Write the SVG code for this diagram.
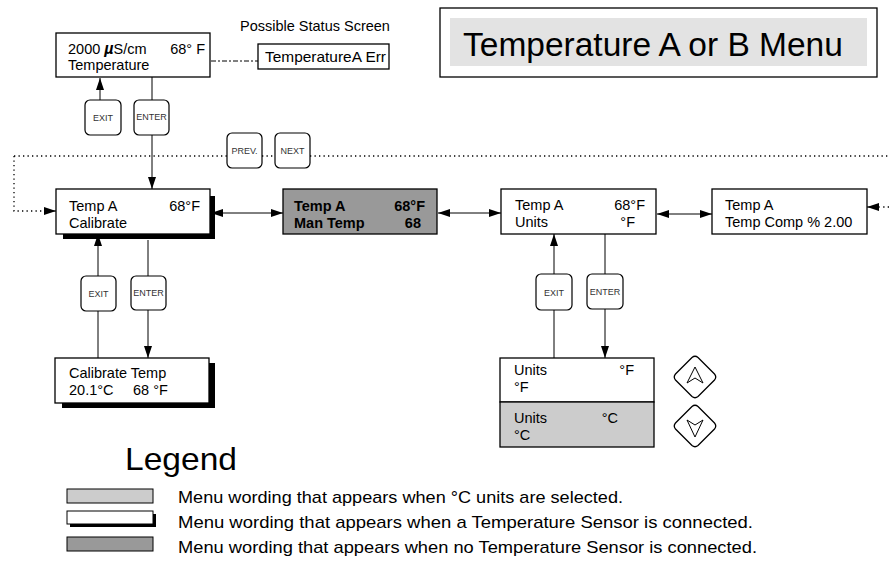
<svg xmlns="http://www.w3.org/2000/svg" width="889" height="563" viewBox="0 0 889 563">
<defs>
<style>
text{font-family:"Liberation Sans",Arial,sans-serif;fill:#000}
.t{font-size:14.5px}
.b{font-size:14.5px;font-weight:bold}
.btn{fill:#fff;stroke:#000;stroke-width:1.2}
.bt{font-size:9px;fill:#333;text-anchor:middle}
.box{stroke:#000;stroke-width:1.3}
.ln{stroke:#000;stroke-width:1;fill:none}
.dot{stroke:#000;stroke-width:1.3;fill:none;stroke-dasharray:1.3,3.2}
.lg{font-size:17px}
</style>
<marker id="ah" viewBox="0 0 12 8" refX="12" refY="4" markerWidth="12" markerHeight="8" markerUnits="userSpaceOnUse" orient="auto-start-reverse">
<path d="M0,0 L12,4 L0,8 Z" fill="#000"/>
</marker>
</defs>
<rect width="889" height="563" fill="#fff"/>

<g id="title">
<rect x="440" y="8" width="437" height="69" fill="#fff" class="box"/>
<rect x="450" y="18" width="417" height="48" fill="#e3e3e3"/>
<text x="463" y="56" font-size="33.5">Temperature A or B Menu</text>
</g>

<g id="connectors">
<path d="M211,61 H258" class="ln" stroke-dasharray="5,2,2,2" stroke-width="1.3"/>
<path d="M100,100 V78" class="ln" marker-end="url(#ah)"/>
<path d="M152,77 V189" class="ln" marker-end="url(#ah)"/>
<path d="M14,156 H227 M262,156 H275 M310,156 H889" class="dot"/>
<path d="M14,156 V211 H45" class="dot"/>
<path d="M44,211 H56" class="ln" marker-end="url(#ah)"/>
<path d="M889,207 H880" class="dot"/>
<path d="M880,207 H867" class="ln" marker-end="url(#ah)"/>
<path d="M211,213 H283" class="ln" marker-start="url(#ah)" marker-end="url(#ah)"/>
<path d="M438,213 H501" class="ln" marker-start="url(#ah)" marker-end="url(#ah)"/>
<path d="M657,214 H712" class="ln" marker-start="url(#ah)" marker-end="url(#ah)"/>
<path d="M98,358 V234" class="ln" marker-end="url(#ah)"/>
<path d="M148,240 V358" class="ln" marker-end="url(#ah)"/>
<path d="M554,358 V234" class="ln" marker-end="url(#ah)"/>
<path d="M605,234 V358" class="ln" marker-end="url(#ah)"/>
</g>

<g id="btn-exit1"><rect x="85" y="100" width="36" height="35" rx="5" class="btn"/><text x="103" y="121" class="bt">EXIT</text></g>
<g id="btn-enter1"><rect x="134" y="100" width="35" height="35" rx="5" class="btn"/><text x="151.5" y="120" class="bt">ENTER</text></g>
<g id="btn-prev"><rect x="227" y="133" width="35" height="35" rx="5" class="btn"/><text x="244.5" y="154" class="bt">PREV.</text></g>
<g id="btn-next"><rect x="275" y="133" width="35" height="35" rx="5" class="btn"/><text x="292.5" y="154" class="bt">NEXT</text></g>
<g id="btn-exit2"><rect x="81" y="276" width="35" height="35" rx="5" class="btn"/><text x="98.5" y="297" class="bt">EXIT</text></g>
<g id="btn-enter2"><rect x="131" y="276" width="35" height="34" rx="5" class="btn"/><text x="148.5" y="296" class="bt">ENTER</text></g>
<g id="btn-exit3"><rect x="536" y="274" width="36" height="36" rx="5" class="btn"/><text x="554" y="296" class="bt">EXIT</text></g>
<g id="btn-enter3"><rect x="587" y="274" width="36" height="35" rx="5" class="btn"/><text x="605" y="295" class="bt">ENTER</text></g>

<g id="main-screen">
<rect x="56" y="33" width="154" height="44" fill="#fff" class="box"/>
<text x="68" y="54" class="t">2000 <tspan font-style="italic" font-weight="bold" font-size="16">µ</tspan>S/cm</text>
<text x="205" y="54" class="t" text-anchor="end">68° F</text>
<text x="68" y="70" class="t">Temperature</text>
</g>

<g id="status-screen">
<text x="240" y="31" font-size="14.5">Possible Status Screen</text>
<rect x="258" y="44" width="131" height="25" fill="#fff" class="box"/>
<text x="265" y="62" class="t" textLength="121" lengthAdjust="spacingAndGlyphs">TemperatureA Err</text>
</g>

<g id="calibrate">
<path d="M63,234 H215 V196 H210 V234 Z M63,234 V239 H215 V234 Z" fill="#000"/>
<rect x="56" y="189" width="154" height="45" fill="#fff" class="box"/>
<text x="69" y="211" class="t">Temp A</text>
<text x="200" y="211" class="t" text-anchor="end">68°F</text>
<text x="69" y="228" class="t">Calibrate</text>
</g>

<g id="man-temp">
<rect x="283" y="189" width="154" height="45" fill="#999" class="box"/>
<text x="294" y="211" class="b">Temp A</text>
<text x="425" y="211" class="b" text-anchor="end">68°F</text>
<text x="294" y="228" class="b">Man Temp</text>
<text x="421" y="228" class="b" text-anchor="end">68</text>
</g>

<g id="units">
<rect x="501" y="189" width="155" height="45" fill="#fff" class="box"/>
<text x="515" y="210" class="t">Temp A</text>
<text x="645" y="210" class="t" text-anchor="end">68°F</text>
<text x="515" y="227" class="t">Units</text>
<text x="635" y="227" class="t" text-anchor="end">°F</text>
</g>

<g id="temp-comp">
<rect x="712" y="189" width="155" height="45" fill="#fff" class="box"/>
<text x="725" y="210" class="t">Temp A</text>
<text x="725" y="227" class="t">Temp Comp % 2.00</text>
</g>

<g id="calibrate-temp">
<path d="M209,403 H215 V363 H209 Z M62,403 V408 H215 V403 Z" fill="#000"/>
<rect x="55" y="358" width="154" height="45" fill="#fff" class="box"/>
<text x="69" y="378" class="t">Calibrate Temp</text>
<text x="69" y="395" class="t">20.1°C</text>
<text x="133" y="395" class="t">68 °F</text>
</g>

<g id="units-f">
<rect x="500" y="358" width="154" height="44" fill="#fff" class="box"/>
<text x="514" y="375" class="t">Units</text>
<text x="634" y="375" class="t" text-anchor="end">°F</text>
<text x="514" y="392" class="t">°F</text>
</g>

<g id="units-c">
<rect x="500" y="402" width="154" height="45" fill="#ccc" class="box"/>
<text x="514" y="423" class="t">Units</text>
<text x="618" y="423" class="t" text-anchor="end">°C</text>
<text x="514" y="440" class="t">°C</text>
</g>

<g id="key-up">
<path d="M692,357.5 Q695,355 698,357.5 L714.5,374 Q717,377 714.5,380 L698,396.5 Q695,399 692,396.5 L675.5,380 Q673,377 675.5,374 Z" fill="#fff" stroke="#000" stroke-width="1.3"/>
<path d="M695,367 L703,383 L695,378 L687,383 Z" fill="none" stroke="#000" stroke-width="1"/>
</g>
<g id="key-down">
<path d="M692,406.5 Q695,404 698,406.5 L714.5,423 Q717,426 714.5,429 L698,445.5 Q695,448 692,445.5 L675.5,429 Q673,426 675.5,423 Z" fill="#fff" stroke="#000" stroke-width="1.3"/>
<path d="M695,437 L703,420 L695,425 L687,420 Z" fill="none" stroke="#000" stroke-width="1"/>
</g>

<g id="legend">
<text x="125" y="470" font-size="32" textLength="112" lengthAdjust="spacingAndGlyphs">Legend</text>
<rect x="67" y="489" width="86" height="14" fill="#ccc" stroke="#000" stroke-width="1"/>
<path d="M70,523 H156 V514 H153 V523 Z M70,523 V527 H156 V523 Z" fill="#000"/>
<rect x="67" y="511" width="86" height="13" fill="#fff" stroke="#000" stroke-width="1"/>
<rect x="67" y="537" width="86" height="14" fill="#999" stroke="#000" stroke-width="1"/>
<text x="178" y="503" class="lg" textLength="445" lengthAdjust="spacingAndGlyphs">Menu wording that appears when °C units are selected.</text>
<text x="178" y="528" class="lg" textLength="575" lengthAdjust="spacingAndGlyphs">Menu wording that appears when a Temperature Sensor is connected.</text>
<text x="178" y="553" class="lg" textLength="579" lengthAdjust="spacingAndGlyphs">Menu wording that appears when no Temperature Sensor is connected.</text>
</g>
</svg>
